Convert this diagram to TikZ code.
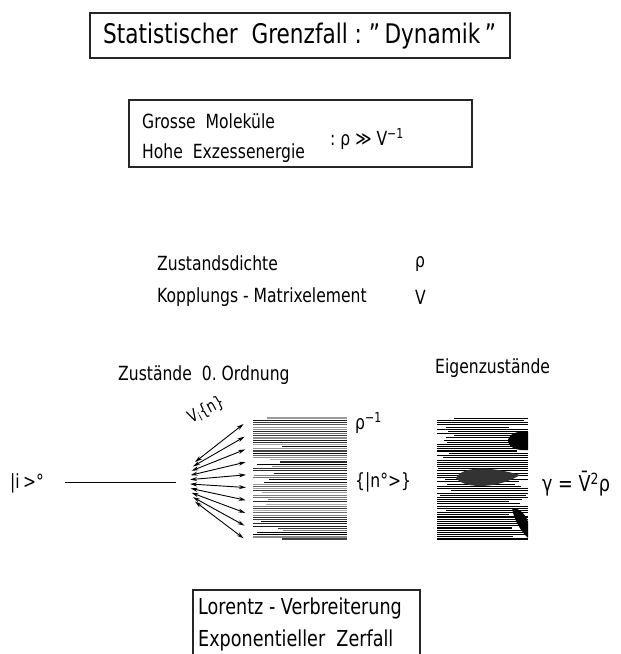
\documentclass[tikz,border=0pt]{standalone}
\usepackage{fontspec}
\setmainfont{DejaVu Sans}[FakeStretch=0.8]
\usetikzlibrary{arrows.meta}

\begin{document}
\begin{tikzpicture}[x=1pt,y=-1pt,
  box/.style={draw=black!85,line width=1.3pt},
  txt/.style={inner sep=0pt,anchor=west},
  big/.style={font=\fontsize{27}{30}\selectfont},
  mid/.style={font=\fontsize{19.5}{22}\selectfont},
  lrg/.style={font=\fontsize{22}{25}\selectfont},
  fan/.style={{Stealth[length=7pt,width=4pt]}-{Stealth[length=7pt,width=4pt]},line width=0.9pt}]
\useasboundingbox (0,0) rectangle (621,654);
% Titel
\draw[box] (90,13) rectangle (510,58);
\node[txt,big] (titel) at (103,36) {Statistischer\ \ Grenzfall\ :\ "\,Dynamik\,"};
% Bedingung
\draw[box] (129,100) rectangle (472,167);
\node[txt,mid] (gross) at (142,121) {Grosse\ \ Moleküle};
\node[txt,mid] (hohe) at (142,153) {Hohe\ \ Exzessenergie};
\node[txt,mid] (bed) at (330,139) {:\ ρ ≫ V\textsuperscript{−1}};
% Groessen
\node[txt,mid] (dichte) at (157,263) {Zustandsdichte};
\node[txt,mid] (rho) at (415,264) {ρ};
\node[txt,mid] (kopp) at (157,297) {Kopplungs\ -\ Matrixelement};
\node[txt,mid] (vv) at (415,297) {V};
\node[txt,mid] (nullte) at (118,375) {Zustände\ \ 0.\ Ordnung};
\node[txt,mid] (eigen) at (435,368) {Eigenzustände};
% Ausgangszustand
\node[txt,mid] (izust) at (10,483) {|i\,>°};
\coordinate (s) at (65,482);
\coordinate (e) at (176,482);
\draw[line width=1pt] (s) -- (e);
% Kopplungsfaecher
\foreach \i in {0,...,9}{
  \pgfmathsetmacro\xl{190+0.25*(\i-4.5)^2}
  \pgfmathsetmacro\yl{462+4.4*\i}
  \pgfmathsetmacro\xr{246-0.12*(\i-4.5)^2}
  \pgfmathsetmacro\yr{424+12.7*\i}
  \coordinate (l\i) at (\xl,\yl);
  \coordinate (r\i) at (\xr,\yr);
  \draw[fan] (l\i) -- (r\i);
}
\node[font=\fontsize{17}{19}\selectfont,inner sep=0pt,rotate=28] (vin) at (206,410) {V\textsubscript{i}\{n\}};
% Zustaende 0. Ordnung
\pgfmathsetseed{7}
\foreach \i in {0,...,55}{
  \pgfmathsetmacro\yy{418+2.2*\i}
  \pgfmathsetmacro\ww{0.3+1.2*rnd}
  \pgfmathsetmacro\gg{30+70*rnd}
  \pgfmathsetmacro\xa{253+(rnd<0.25)*30*rnd}
  \draw[line width=\ww pt,black!\gg] (\xa,\yy) -- (347,\yy);
}
\node[txt,mid] (rhoinv) at (355,423) {ρ\textsuperscript{−1}};
\node[txt,mid] (nnull) at (355,482) {\{|n°>\}};
% Eigenzustaende
\pgfmathsetseed{21}
\foreach \i in {0,...,55}{
  \pgfmathsetmacro\yy{418+2.2*\i}
  \pgfmathsetmacro\ww{0.2+1.1*rnd}
  \pgfmathsetmacro\xa{437+(rnd<0.3)*20*rnd}
  \pgfmathsetmacro\xb{528-(rnd<0.3)*25*rnd}
  \draw[line width=\ww pt] (\xa,\yy) -- (\xb,\yy);
}
\fill (508,440) .. controls (510,432) and (520,431) .. (528,432) -- (528,450) .. controls (518,451) and (508,448) .. (508,440) -- cycle;
\fill[black!80] (456,478) .. controls (462,466) and (490,466) .. (520,475) .. controls (500,488) and (465,490) .. (456,478) -- cycle;
\fill (512,508) .. controls (520,508) and (526,515) .. (528,522) -- (528,538) .. controls (520,530) and (514,520) .. (512,508) -- cycle;
\node[txt,lrg] (gamma) at (542,484) {γ\ =\ V̄\textsuperscript{2}ρ};
% Folgerung
\draw[box] (193,654) |- (420,590) -- (420,654);
\node[txt,lrg] (lorentz) at (198,608) {Lorentz\ -\ Verbreiterung};
\node[txt,lrg] (zerfall) at (198,640) {Exponentieller\ \ Zerfall};
\end{tikzpicture}
\end{document}
